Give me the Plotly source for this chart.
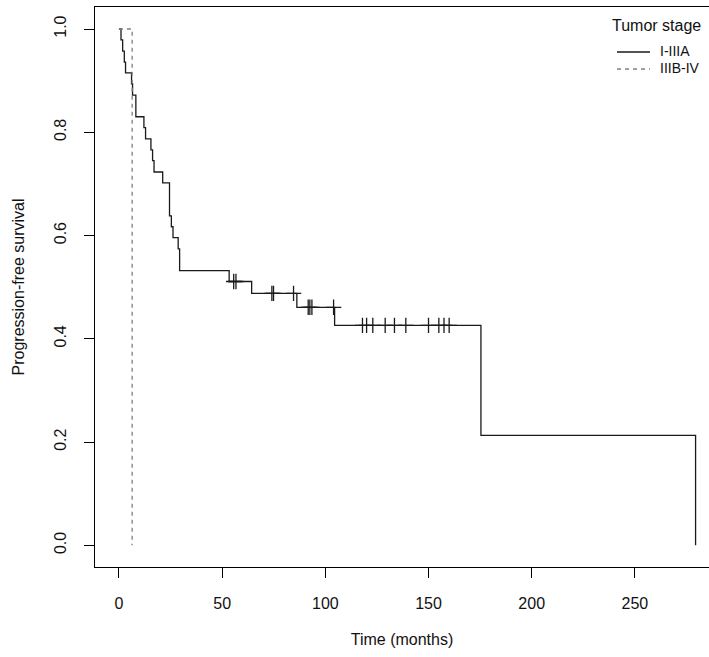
import plotly.graph_objects as go

# ---- Data (Kaplan-Meier steps) ----
# Tumor stage I-IIIA: step times (months) and survival after each step
stage1_time = [0, 1.0, 1.8, 2.6, 3.2, 6.1, 6.6, 8.2, 12.1, 12.9, 15.5, 16.3, 17.0,
               21.2, 24.5, 25.4, 26.2, 28.7, 29.4, 53.4, 64.3, 86.2, 104.5, 175.4, 279.4]
stage1_surv = [1.0, 0.979, 0.957, 0.936, 0.915, 0.894, 0.872, 0.830, 0.809, 0.787, 0.766,
               0.745, 0.723, 0.702, 0.638, 0.617, 0.596, 0.574, 0.532, 0.511, 0.488,
               0.461, 0.426, 0.213, 0.0]

# Censoring marks for I-IIIA
censor_time = [55.6, 56.7, 74.1, 74.9, 84.6, 91.7, 92.5, 93.5, 104.0,
               118.0, 120.0, 123.0, 129.0, 133.5, 139.0, 150.0, 155.0, 157.5, 160.0]
censor_surv = [0.511, 0.511, 0.488, 0.488, 0.488, 0.461, 0.461, 0.461, 0.461,
               0.426, 0.426, 0.426, 0.426, 0.426, 0.426, 0.426, 0.426, 0.426, 0.426]

# Tumor stage IIIB-IV
stage2_time = [0, 6.4]
stage2_surv = [1.0, 0.0]

x_ticks = [0, 50, 100, 150, 200, 250]
y_ticks = [0.0, 0.2, 0.4, 0.6, 0.8, 1.0]
group_labels = ["I-IIIA", "IIIB-IV"]
legend_title = "Tumor stage"

FONT = "Liberation Sans, Arial, sans-serif"
DARK = "#1a1a1a"
GREY = "#808080"

fig = go.Figure()
fig.add_trace(go.Scatter(x=stage1_time, y=stage1_surv, mode="lines",
                         line=dict(shape="hv", color=DARK, width=1.3),
                         name=group_labels[0], showlegend=False, hoverinfo="skip"))
fig.add_trace(go.Scatter(x=stage2_time, y=stage2_surv, mode="lines",
                         line=dict(shape="hv", color=GREY, width=1.3, dash="4px,4px"),
                         name=group_labels[1], showlegend=False, hoverinfo="skip"))
fig.add_trace(go.Scatter(x=censor_time, y=censor_surv, mode="markers",
                         marker=dict(symbol="cross-thin", size=11,
                                     line=dict(width=1.3, color=DARK)),
                         name="censored", showlegend=False, hoverinfo="skip"))

# plot-area pixel geometry
L, R, T, B = 95, 0, 7, 90
W, H = 709, 657
pw, ph = W - L - R, H - T - B

def px(xp):
    return (xp - L) / pw

def py(yp):
    return (H - B - yp) / ph

annotations = [
    dict(text=legend_title, x=px(611), y=py(25), xref="paper", yref="paper",
         xanchor="left", yanchor="middle", showarrow=False, borderpad=0,
         font=dict(family=FONT, size=16, color="#111")),
    dict(text=group_labels[0], x=px(659), y=py(51), xref="paper", yref="paper",
         xanchor="left", yanchor="middle", showarrow=False, borderpad=0,
         font=dict(family=FONT, size=14, color="#111")),
    dict(text=group_labels[1], x=px(659), y=py(68), xref="paper", yref="paper",
         xanchor="left", yanchor="middle", showarrow=False, borderpad=0,
         font=dict(family=FONT, size=14, color="#111")),
]
shapes = [
    dict(type="line", xref="paper", yref="paper", x0=px(617), x1=px(650),
         y0=py(52), y1=py(52), line=dict(color=DARK, width=1.3)),
    dict(type="line", xref="paper", yref="paper", x0=px(617), x1=px(650),
         y0=py(69), y1=py(69), line=dict(color=GREY, width=1.3, dash="4px,4px")),
]

fig.update_layout(
    width=W, height=H,
    margin=dict(l=L, r=R, t=T, b=B, pad=0),
    paper_bgcolor="white", plot_bgcolor="white",
    font=dict(family=FONT, size=16, color="#111"),
    annotations=annotations, shapes=shapes,
    showlegend=False,
)
fig.update_xaxes(
    range=[-11.6, 285.9], tickvals=x_ticks, ticktext=[str(v) for v in x_ticks],
    showgrid=False, zeroline=False, showline=True, linecolor="black", linewidth=1,
    mirror=True, ticks="outside", ticklen=10, tickcolor="black", tickwidth=1,
    ticklabelstandoff=12, tickfont=dict(size=16),
    title=dict(text="Time (months)", standoff=22, font=dict(size=16)),
    automargin=False,
)
fig.update_yaxes(
    range=[-0.042, 1.0426], tickvals=y_ticks, ticktext=[f"{v:.1f}" for v in y_ticks],
    tickangle=-90,
    showgrid=False, zeroline=False, showline=True, linecolor="black", linewidth=1,
    mirror=False, ticks="outside", ticklen=10, tickcolor="black", tickwidth=1,
    ticklabelstandoff=12, tickfont=dict(size=16),
    title=dict(text="Progression-free survival", standoff=22, font=dict(size=16)),
    automargin=False,
)

fig.write_html("out.html")
